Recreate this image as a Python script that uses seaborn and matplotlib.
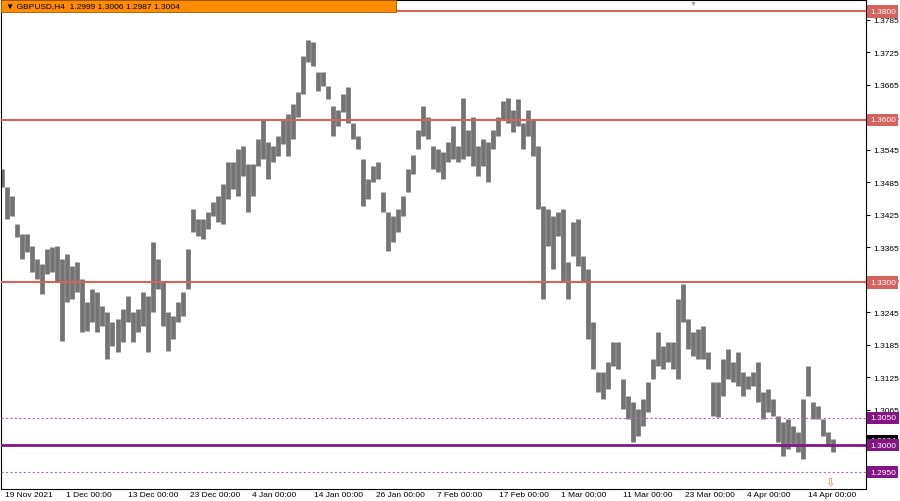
import matplotlib
matplotlib.use("Agg")
import matplotlib.pyplot as plt
import matplotlib.transforms as mtransforms
from matplotlib.patches import Rectangle
import numpy as np
import pandas as pd
import seaborn as sns

bar_high = [
    1.3509, 1.3476, 1.3459, 1.3407, 1.3389, 1.3389, 1.3367, 1.3343, 1.3334, 1.3361,
    1.3365, 1.3367, 1.3343, 1.3352, 1.3330, 1.3337, 1.3306, 1.3264, 1.3288, 1.3282,
    1.3256, 1.3245, 1.3227, 1.3232, 1.3251, 1.3275, 1.3245, 1.3251, 1.3282, 1.3275,
    1.3374, 1.3343, 1.3300, 1.3245, 1.3238, 1.3264, 1.3282, 1.3361, 1.3435, 1.3417,
    1.3417, 1.3430, 1.3448, 1.3459, 1.3481, 1.3522, 1.3522, 1.3546, 1.3551, 1.3518,
    1.3518, 1.3564, 1.3601, 1.3559, 1.3551, 1.3570, 1.3601, 1.3610, 1.3629, 1.3651,
    1.3717, 1.3748, 1.3743, 1.3688, 1.3688, 1.3662, 1.3625, 1.3619, 1.3647, 1.3660,
    1.3595, 1.3570, 1.3527, 1.3490, 1.3514, 1.3522, 1.3466, 1.3430, 1.3422, 1.3435,
    1.3459, 1.3509, 1.3536, 1.3582, 1.3625, 1.3606, 1.3551, 1.3546, 1.3540, 1.3559,
    1.3588, 1.3551, 1.3641, 1.3582, 1.3606, 1.3551, 1.3564, 1.3559, 1.3582, 1.3606,
    1.3634, 1.3641, 1.3619, 1.3638, 1.3595, 1.3619, 1.3601, 1.3551, 1.3441, 1.3435,
    1.3422, 1.3430, 1.3435, 1.3337, 1.3411, 1.3417, 1.3348, 1.3325, 1.3227, 1.3135,
    1.3135, 1.3153, 1.3190, 1.3190, 1.3122, 1.3090, 1.3079, 1.3066, 1.3085, 1.3116,
    1.3159, 1.3208, 1.3183, 1.3190, 1.3190, 1.3269, 1.3297, 1.3232, 1.3208, 1.3214,
    1.3219, 1.3172, 1.3116, 1.3116, 1.3159, 1.3177, 1.3153, 1.3172, 1.3135, 1.3127,
    1.3135, 1.3153, 1.3098, 1.3103, 1.3085, 1.3054, 1.3042, 1.3048, 1.3035, 1.3024,
    1.3085, 1.3146, 1.3079, 1.3072, 1.3048, 1.3024, 1.3011,
]
bar_low = [
    1.3476, 1.3417, 1.3422, 1.3384, 1.3343, 1.3356, 1.3319, 1.3306, 1.3278, 1.3315,
    1.3319, 1.3300, 1.3192, 1.3264, 1.3269, 1.3282, 1.3208, 1.3210, 1.3227, 1.3208,
    1.3219, 1.3159, 1.3183, 1.3172, 1.3190, 1.3227, 1.3190, 1.3208, 1.3219, 1.3172,
    1.3245, 1.3288, 1.3219, 1.3173, 1.3196, 1.3227, 1.3238, 1.3288, 1.3393, 1.3385,
    1.3380, 1.3398, 1.3422, 1.3411, 1.3407, 1.3454, 1.3472, 1.3459, 1.3496, 1.3430,
    1.3459, 1.3514, 1.3527, 1.3490, 1.3522, 1.3533, 1.3555, 1.3533, 1.3564, 1.3606,
    1.3647, 1.3706, 1.3699, 1.3653, 1.3662, 1.3638, 1.3570, 1.3588, 1.3614, 1.3595,
    1.3564, 1.3546, 1.3441, 1.3454, 1.3485, 1.3490, 1.3430, 1.3358, 1.3374, 1.3393,
    1.3422, 1.3466, 1.3500, 1.3546, 1.3570, 1.3564, 1.3509, 1.3503, 1.3490, 1.3522,
    1.3527, 1.3522, 1.3527, 1.3533, 1.3514, 1.3496, 1.3514, 1.3485, 1.3546, 1.3570,
    1.3601, 1.3595, 1.3577, 1.3588, 1.3546, 1.3570, 1.3533, 1.3435, 1.3269, 1.3367,
    1.3325, 1.3385, 1.3300, 1.3269, 1.3348, 1.3330, 1.3300, 1.3196, 1.3140, 1.3098,
    1.3085, 1.3103, 1.3146, 1.3140, 1.3066, 1.3048, 1.3006, 1.3017, 1.3035, 1.3061,
    1.3122, 1.3146, 1.3140, 1.3153, 1.3140, 1.3122, 1.3227, 1.3177, 1.3164, 1.3159,
    1.3159, 1.3140, 1.3054, 1.3052, 1.3090, 1.3122, 1.3116, 1.3109, 1.3090, 1.3103,
    1.3109, 1.3079, 1.3048, 1.3061, 1.3054, 1.3006, 1.2980, 1.2993, 1.2998, 1.2987,
    1.2974, 1.3090, 1.3048, 1.3048, 1.3017, 1.2998, 1.2987,
]

# x axis: trading days counted from 19 Nov 2021
date_labels = ["19 Nov 2021", "1 Dec 00:00", "13 Dec 00:00", "23 Dec 00:00",
               "4 Jan 00:00", "14 Jan 00:00", "26 Jan 00:00", "7 Feb 00:00",
               "17 Feb 00:00", "1 Mar 00:00", "11 Mar 00:00", "23 Mar 00:00",
               "4 Apr 00:00", "14 Apr 00:00"]
date_days = [0, 8, 16, 24, 32, 40, 48, 56, 64, 72, 80, 88, 96, 104]
slice_days = 0.647

price_ticks = [1.3785, 1.3725, 1.3665, 1.3605, 1.3545, 1.3485, 1.3425,
               1.3365, 1.3305, 1.3245, 1.3185, 1.3125, 1.3065, 1.3005]
red_levels = [1.3800, 1.3600, 1.3300]
main_level = 1.3000
dotted_levels = [1.3050, 1.2950]
last_price = 1.3004
header = "\u25bc GBPUSD,H4  1.2999 1.3006 1.2987 1.3004"

RED = "#d6625e"
PURPLE = "#851485"

sns.set_style("white")
plt.rcParams["font.family"] = ["Liberation Sans", "DejaVu Sans"]

df = pd.DataFrame({"high": bar_high, "low": bar_low})
df["day"] = np.arange(len(df)) * slice_days + 0.06

fig = plt.figure(figsize=(9, 5.02), dpi=100)
ax = fig.add_axes([1 / 900, 12 / 502, 865 / 900, 489.5 / 502])

ax.vlines(df["day"], df["low"], df["high"], color="#747474", lw=3.4, zorder=2)

for lv in red_levels:
    ax.axhline(lv, color=RED, lw=1.5, zorder=3)
ax.axhline(main_level, color=PURPLE, lw=2.0, zorder=3)
for lv in dotted_levels:
    ax.axhline(lv, color="#b868b8", lw=0.8, ls=(0, (2, 2)), zorder=3)

ax.set_xlim(-0.13, 111.77)
ax.set_ylim(1.29189, 1.38221)

ax.yaxis.tick_right()
ax.set_yticks(price_ticks)
ax.set_yticklabels([f"{p:.4f}" for p in price_ticks])
ax.tick_params(axis="y", length=3, pad=2, labelsize=6, colors="#000000")
ax.set_xticks(date_days)
ax.set_xticklabels(date_labels, ha="left")
ax.tick_params(axis="x", length=3, pad=-1.5, labelsize=6, colors="#000000")
shift = mtransforms.ScaledTranslation(2.5 / 100, 0, fig.dpi_scale_trans)
for lab in ax.get_xticklabels():
    lab.set_transform(lab.get_transform() + shift)

for s in ax.spines.values():
    s.set_color("#000000")
    s.set_linewidth(0.8)

# price boxes on the right scale
trans = mtransforms.blended_transform_factory(ax.transAxes, ax.transData)
box_kw = dict(transform=trans, va="center", ha="left", color="white",
              fontsize=6, clip_on=False)
ax.text(1.0045, last_price + 0.0004, f"{last_price:.4f}", zorder=5,
        bbox=dict(boxstyle="square,pad=0.32", fc="#000000", ec="none"), **box_kw)
for lv in red_levels:
    ax.text(1.0045, lv, f"{lv:.4f}", zorder=6,
            bbox=dict(boxstyle="square,pad=0.32", fc=RED, ec="none"), **box_kw)
for lv in dotted_levels + [main_level]:
    ax.text(1.0045, lv, f"{lv:.4f}", zorder=6,
            bbox=dict(boxstyle="square,pad=0.32", fc=PURPLE, ec="none"), **box_kw)

# header strip
ax.add_patch(Rectangle((0, 1 - 13 / 490), 395 / 866, 13 / 490, transform=ax.transAxes,
                       fc="#ff8c00", ec="#a05800", lw=0.6, zorder=7))
ax.text(5 / 866, 1 - 6.5 / 490, header, transform=ax.transAxes, va="center",
        ha="left", fontsize=6, color="#000000", zorder=8)
ax.text(693 / 866, 1.0, "\u25bc", transform=ax.transAxes, va="top", ha="center",
        fontsize=5, color="#a0a0a0", zorder=8)
ax.text(830 / 866, 7 / 490, "\u21e9", transform=ax.transAxes, va="center",
        ha="center", fontsize=8, color="#f07830", family="DejaVu Sans", zorder=8)

fig.savefig("out.png", dpi=100)
